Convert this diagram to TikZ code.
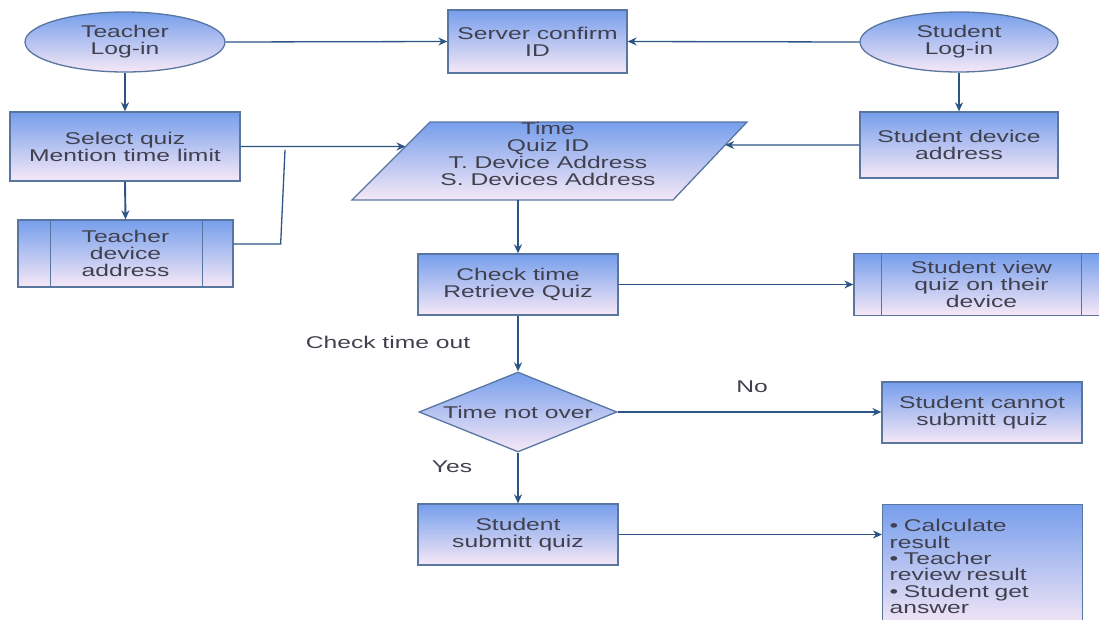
\documentclass[tikz,border=0pt]{standalone}
\usepackage{fontspec}
\setmainfont[FakeStretch=1.45]{Liberation Sans}
\usetikzlibrary{shapes.geometric,arrows.meta,calc}
\definecolor{boxtop}{RGB}{118,158,236}
\definecolor{boxbot}{RGB}{246,232,246}
\definecolor{edge}{RGB}{88,118,160}
\definecolor{wire}{RGB}{44,84,132}
\definecolor{ink}{RGB}{64,64,78}
\tikzset{
  shade box/.style={draw=edge, line width=1.3pt, top color=boxtop, bottom color=boxbot},
  base/.style={shade box, text=ink, font=\fontsize{17}{17}\selectfont, align=center, inner sep=0pt},
  terminal/.style={base, ellipse},
  procbox/.style={base, rectangle},
  decision/.style={base, diamond, aspect=2.475},
  txt/.style={text=ink, font=\fontsize{17}{17}\selectfont, align=center, inner sep=0pt},
  arr/.style={draw=wire, line width=1.3pt, -{Stealth[length=9pt,width=8pt]}},
  varr/.style={arr, line width=1.9pt},
  wireline/.style={draw=wire, line width=1.3pt},
  sideline/.style={draw=edge, line width=1.3pt}
}
\begin{document}
\begin{tikzpicture}[x=1pt,y=-1pt]
\useasboundingbox (0,0) rectangle (1099,619);

% top row
\node[terminal, minimum width=200pt, minimum height=60pt] (tlog) at (125,42) {Teacher\\Log-in};
\node[procbox, minimum width=179pt, minimum height=63pt] (server) at (537.5,41.5) {Server confirm\\ID};
\node[terminal, minimum width=198pt, minimum height=60pt] (slog) at (959,42) {Student\\Log-in};

% teacher side
\node[procbox, minimum width=230pt, minimum height=69pt] (sel) at (125,146.5) {Select quiz\\Mention time limit};
\node[procbox, minimum width=215pt, minimum height=67pt] (tdev) at (125.5,253.5) {Teacher\\device\\address};
\draw[sideline] ([xshift=33pt]tdev.north west) -- ([xshift=33pt]tdev.south west);
\draw[sideline] ([xshift=-31pt]tdev.north east) -- ([xshift=-31pt]tdev.south east);

% student side
\node[procbox, minimum width=198pt, minimum height=66pt] (sdev) at (959,145) {Student device\\address};

% data block (parallelogram)
\coordinate (pBL) at (352,200);
\coordinate (pTL) at (430,122);
\coordinate (pTR) at (747,122);
\coordinate (pBR) at (673,200);
\path[shade box] (pBL) -- (pTL) -- (pTR) -- (pBR) -- cycle;
\node[txt] (data) at (548,154) {Time\\Quiz ID\\T. Device Address\\S. Devices Address};
\coordinate (pinL) at ($(pBL)!0.686!(pTL)$);
\coordinate (pinR) at ($(pBR)!0.705!(pTR)$);

% middle column
\node[procbox, minimum width=200pt, minimum height=61pt] (chk) at (518,284.5) {Check time\\Retrieve Quiz};
\node[procbox, minimum width=255pt, minimum height=62pt] (view) at (981.5,284.5) {Student view\\quiz on their\\device};
\draw[sideline] ([xshift=28pt]view.north west) -- ([xshift=28pt]view.south west);
\draw[sideline] ([xshift=-28pt]view.north east) -- ([xshift=-28pt]view.south east);

\node[decision, minimum width=198pt, minimum height=80pt] (dia) at (518,412) {Time not over};
\node[procbox, minimum width=200pt, minimum height=61pt] (cannot) at (982,412.5) {Student cannot\\submitt quiz};
\node[procbox, minimum width=200pt, minimum height=61pt] (submit) at (518,534.5) {Student\\submitt quiz};
\node[procbox, anchor=north west, minimum width=200pt, minimum height=124pt, text width=186pt, align=left,
      font=\fontsize{17}{16.3}\selectfont] (res) at (882,504)
  {• Calculate\\result\\• Teacher\\review result\\• Student get\\answer};

% labels
\node[txt] (lcheck) at (388,342) {Check time out};
\node[txt] (lno) at (752,387) {No};
\node[txt] (lyes) at (452,467) {Yes};

% connectors
\draw[arr] (tlog.east) -- (server.west);
\draw[arr] (slog.west) -- (server.east);
\draw[varr] (tlog.south) -- (sel.north);
\draw[varr] (sel.south) -- (tdev.north);
\draw[arr] (sel.east) -- (pinL);
\coordinate (tjoin) at (285,150);
\draw[wireline] ([yshift=9.5pt]tdev.east) -- ++(47,0) -- (tjoin);
\draw[varr] (slog.south) -- (sdev.north);
\draw[arr] (sdev.west) -- (pinR);
\draw[varr] (pBL -| chk.north) -- (chk.north);
\draw[arr] (chk.east) -- (view.west);
\draw[varr] (chk.south) -- (dia.north);
\draw[arr] (dia.east) -- (dia.east -| cannot.west);
\draw[varr] (dia.south) -- (submit.north);
\draw[arr] (submit.east) -- (submit.east -| res.west);
\end{tikzpicture}
\end{document}
